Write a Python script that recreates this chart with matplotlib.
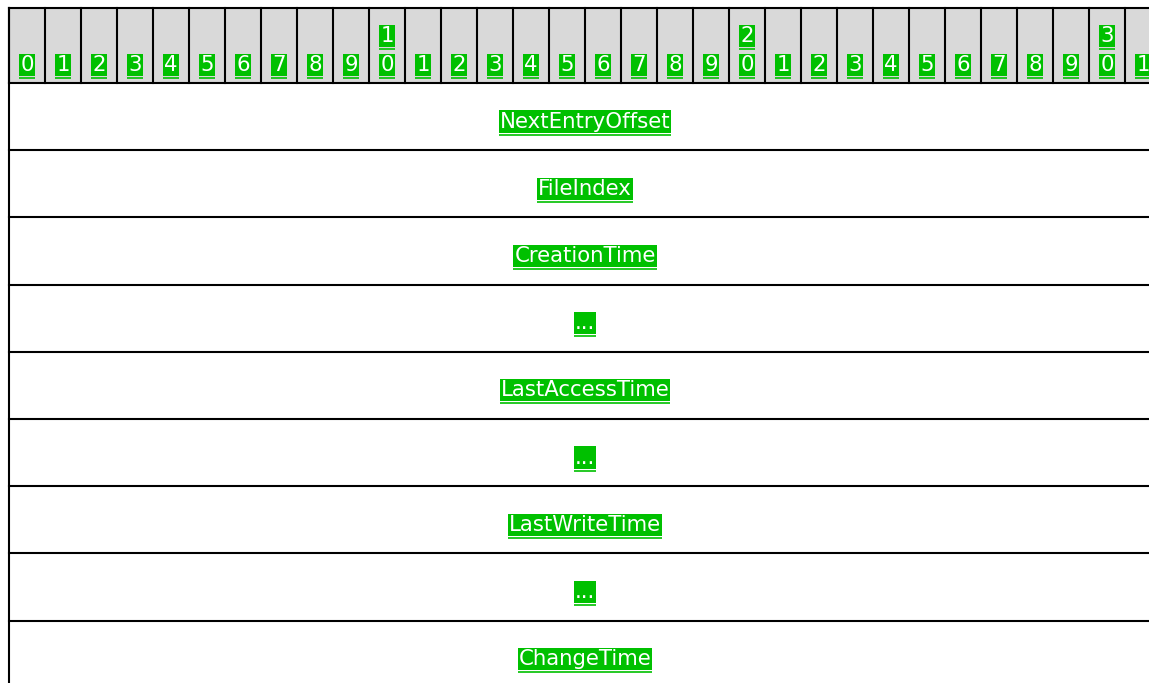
"""
Packet layout diagram: bit ruler on top, one field per row
"""
import matplotlib
matplotlib.use("Agg")
import matplotlib.pyplot as plt
from matplotlib.patches import Rectangle

bit_labels = ["0", "1", "2", "3", "4", "5", "6", "7", "8", "9",
              "1\n0", "1", "2", "3", "4", "5", "6", "7", "8", "9",
              "2\n0", "1", "2", "3", "4", "5", "6", "7", "8", "9",
              "3\n0", "1"]
fields = ["NextEntryOffset", "FileIndex", "CreationTime", "...",
          "LastAccessTime", "...", "LastWriteTime", "...", "ChangeTime"]

W, H = 1149, 683
x0, col_w = 9, 36
top, head_bot = 8, 83
row_h = 67.2
green = "#00c000"
fs = 15.3


def label(ax, x, y, s):
    return ax.text(x, y, s, ha="center", va="center", fontsize=fs,
                   color="white", family="DejaVu Sans",
                   bbox=dict(boxstyle="square,pad=0.05", fc=green, ec="none"))


def main():
    fig = plt.figure(figsize=(W / 100, H / 100), dpi=100)
    ax = fig.add_axes([0, 0, 1, 1])
    ax.set_xlim(0, W)
    ax.set_ylim(H, 0)
    ax.axis("off")

    n = len(bit_labels)
    right = x0 + n * col_w
    lw = 1.5

    # header
    ax.add_patch(Rectangle((x0, top), right - x0, head_bot - top, fc="#d9d9d9", ec="none"))
    for i in range(n + 1):
        ax.plot([x0 + i * col_w] * 2, [top, head_bot], color="black", lw=lw)
    ax.plot([x0, right], [top, top], color="black", lw=lw)
    ax.plot([x0, x0], [top, H + 10], color="black", lw=lw)
    for k in range(len(fields)):
        y = head_bot + k * row_h
        ax.plot([x0, right], [y, y], color="black", lw=lw)

    texts = []
    for i, s in enumerate(bit_labels):
        cx = x0 + (i + 0.5) * col_w
        parts = s.split("\n")
        if len(parts) == 2:
            texts.append(label(ax, cx, 36, parts[0]))
        texts.append(label(ax, cx, 65, parts[-1]))

    cx = x0 + n * col_w / 2
    for k, name in enumerate(fields):
        texts.append(label(ax, cx, head_bot + k * row_h + 38.5, name))

    # underline every label
    fig.canvas.draw()
    inv = ax.transData.inverted()
    for t in texts:
        bb = t.get_bbox_patch().get_window_extent()
        (xa, ya), (xb, yb) = inv.transform([[bb.x0, bb.y0], [bb.x1, bb.y1]])
        yl = max(ya, yb) + 2
        ax.plot([xa, xb], [yl, yl], color=green, lw=1.2, solid_capstyle="butt")

    fig.savefig("out.png", dpi=100)


main()
